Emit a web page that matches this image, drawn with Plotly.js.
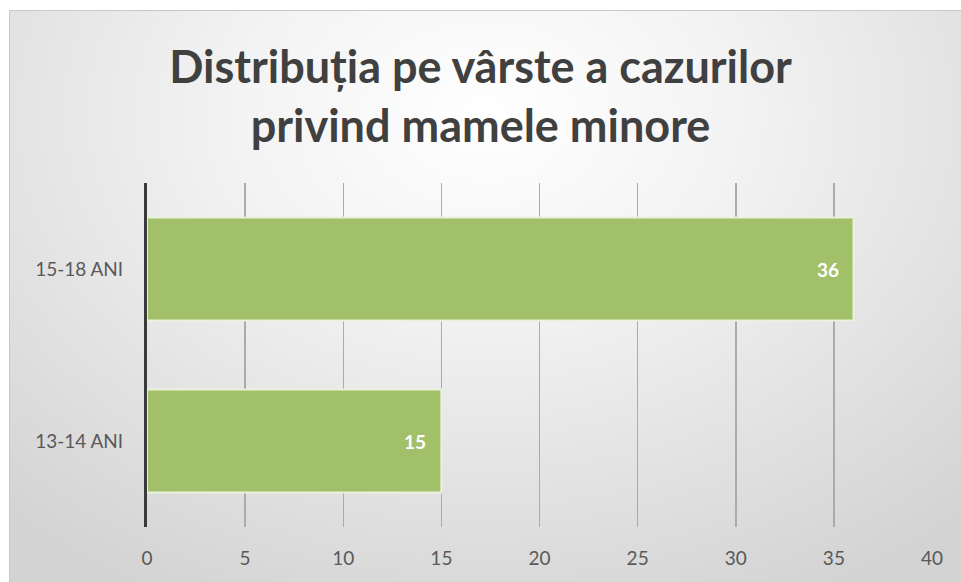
<!DOCTYPE html>
<html>
<head>
<meta charset="utf-8">
<script src="https://cdn.plot.ly/plotly-3.0.1.min.js"></script>
<style>
  html, body { margin:0; padding:0; background:#ffffff; }
  #bg { position:absolute; left:9px; top:10px; width:952px; height:572px;
        background: radial-gradient(ellipse 75% 95% at 50% 18%, #ffffff 0%, #f3f3f3 35%, #d3d3d3 100%);
        border-top:1px solid #c8c8c8; border-left:1px solid #c8c8c8; box-sizing:border-box; }
  #chart { position:absolute; left:0; top:0; width:961px; height:582px; }
</style>
</head>
<body>
<div id="bg"></div>
<div id="chart"></div>
<script>
const categories = ["13-14 ANI", "15-18 ANI"];
const values = [15, 36];
const xTicks = [0, 5, 10, 15, 20, 25, 30, 35, 40];
const titleText = "Distribuția pe vârste a cazurilor<br>privind mamele minore";

const FONT = "Lato, 'Open Sans', sans-serif";

const trace = {
  type: "bar",
  orientation: "h",
  x: values,
  y: categories,
  marker: { color: "#a2c06a", line: { color: "#eaf2dc", width: 2 } },
  hoverinfo: "none"
};

const annotations = values.map((v, i) => ({
  x: v, y: categories[i], xref: "x", yref: "y",
  text: String(v), showarrow: false,
  xanchor: "right", yanchor: "middle", xshift: -13,
  font: { family: FONT, size: 19, color: "#ffffff", weight: "bold" }
}));

const layout = {
  width: 961, height: 582,
  paper_bgcolor: "rgba(0,0,0,0)",
  plot_bgcolor: "rgba(0,0,0,0)",
  margin: { l: 147, r: 29, t: 183, b: 55 },
  bargap: 0.4,
  showlegend: false,
  annotations: annotations,
  title: {
    text: titleText,
    font: { family: FONT, size: 45, color: "#404040", weight: "bold" },
    x: 0.5, xanchor: "center", y: 0.857, yanchor: "middle",
    yref: "container"
  },
  xaxis: {
    range: [0, 40],
    tickvals: xTicks,
    ticktext: xTicks.map(String),
    showgrid: true, gridcolor: "#ababab", gridwidth: 1.5,
    zeroline: false, showline: false,
    ticks: "",
    ticklabelstandoff: 18,
    tickfont: { family: FONT, size: 19, color: "#595959" },
    fixedrange: true
  },
  yaxis: {
    type: "category",
    categoryorder: "array",
    categoryarray: categories,
    showgrid: false,
    showline: true, linecolor: "#3a3a3a", linewidth: 3,
    ticks: "",
    ticklabelstandoff: 17,
    tickfont: { family: FONT, size: 19, color: "#595959" },
    fixedrange: true
  }
};

Plotly.newPlot("chart", [trace], layout, { staticPlot: true, displayModeBar: false });
</script>
</body>
</html>
